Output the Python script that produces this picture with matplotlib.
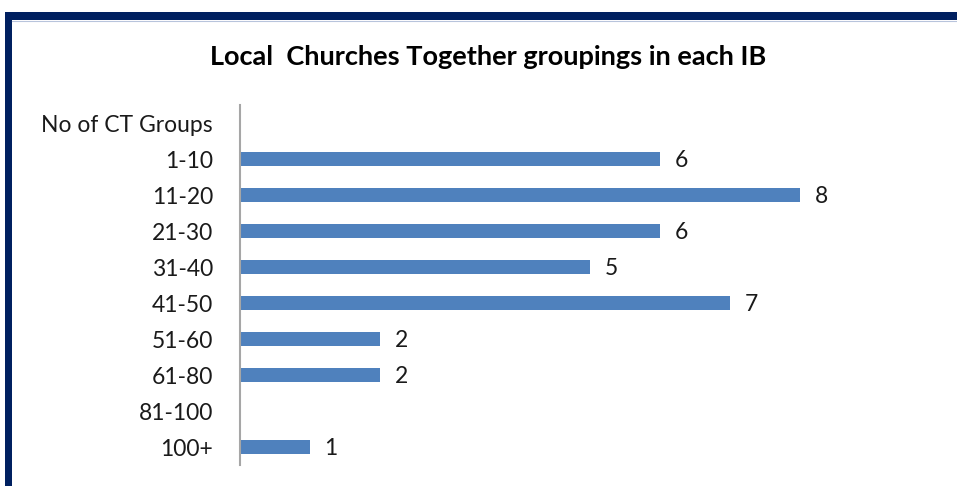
import matplotlib.pyplot as plt
from matplotlib.patches import Rectangle

categories = ["No of CT Groups", "1-10", "11-20", "21-30", "31-40", "41-50",
              "51-60", "61-80", "81-100", "100+"]
counts = [None, 6, 8, 6, 5, 7, 2, 2, None, 1]
title = "Local  Churches Together groupings in each IB"

W, H = 957, 486
fig = plt.figure(figsize=(W / 100, H / 100), dpi=100)
fig.patch.set_facecolor("white")

font = ["Lato", "DejaVu Sans"]
navy = "#002060"

# frame along the top and left edges
fig.patches.append(Rectangle((5 / W, 0), 7 / W, 1 - 12 / H, transform=fig.transFigure,
                             facecolor=navy, edgecolor="none"))
fig.patches.append(Rectangle((5 / W, 1 - 20 / H), 1 - 5 / W, 8 / H, transform=fig.transFigure,
                             facecolor=navy, edgecolor="none"))
fig.add_artist(plt.Line2D([12 / W, 1], [1 - 21 / H, 1 - 21 / H], transform=fig.transFigure,
                          color="#b8c4dc", lw=0.8))

ax = fig.add_axes([240 / W, 1 - 465 / H, 700 / W, 360 / H])
ypos = list(range(len(categories)))
vals = [v if v is not None else 0 for v in counts]
ax.barh(ypos, vals, height=0.39, color="#4F81BD", edgecolor="none")
for y, v in zip(ypos, counts):
    if v is not None:
        ax.text(v + 0.3, y + 0.03, str(v), va="center", ha="center", fontsize=16.5,
                family=font, color="#1a1a1a")

ax.set_xlim(0, 10)
ax.set_ylim(len(categories) - 0.5, -0.5)
ax.set_yticks(ypos)
ax.set_yticklabels(categories, fontsize=16.5, family=font, color="#1a1a1a")
ax.tick_params(axis="y", length=0, pad=19.5)
ax.set_xticks([])
for side in ["top", "right", "bottom"]:
    ax.spines[side].set_visible(False)
ax.spines["left"].set_color("#a6a6a6")
ax.spines["left"].set_linewidth(1.5)

fig.text(488 / W, 1 - 57 / H, title, ha="center", va="center", fontsize=19.5,
         fontweight="bold", family=font, color="black")

fig.savefig("out.png", dpi=100, facecolor="white")
